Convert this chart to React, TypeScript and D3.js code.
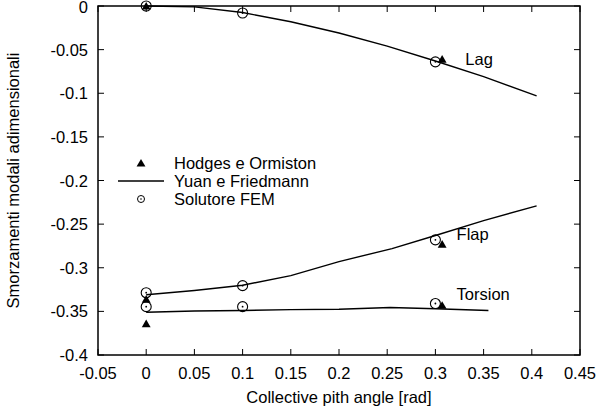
import React from "react";
import * as d3 from "d3";

// Tick values
const xTicks = [-0.05, 0, 0.05, 0.1, 0.15, 0.2, 0.25, 0.3, 0.35, 0.4, 0.45];
const yTicks = [0, -0.05, -0.1, -0.15, -0.2, -0.25, -0.3, -0.35, -0.4];

// Yuan e Friedmann (continuous curves)
const lagLineX = [0, 0.05, 0.1, 0.15, 0.2, 0.25, 0.3, 0.35, 0.405];
const lagLineY = [0, -0.001, -0.0075, -0.018, -0.031, -0.046, -0.063, -0.081, -0.103];
const flapLineX = [0, 0.05, 0.1, 0.15, 0.2, 0.255, 0.3, 0.35, 0.405];
const flapLineY = [-0.331, -0.326, -0.32, -0.309, -0.293, -0.278, -0.263, -0.246, -0.229];
const torsLineX = [0, 0.05, 0.1, 0.15, 0.2, 0.253, 0.3, 0.355];
const torsLineY = [-0.351, -0.3495, -0.349, -0.348, -0.3475, -0.3455, -0.347, -0.349];

// Solutore FEM
const femX = [0, 0.1, 0.3, 0, 0.1, 0.3, 0, 0.1, 0.3];
const femY = [0, -0.008, -0.064, -0.3286, -0.3205, -0.268, -0.3446, -0.3446, -0.341];

// Hodges e Ormiston
const hoX = [0, 0.307, 0, 0.307, 0, 0.307];
const hoY = [0, -0.061, -0.336, -0.273, -0.364, -0.343];

// Mode labels
const modeNames = ["Lag", "Flap", "Torsion"];
const modeLabelX = [0.331, 0.322, 0.322];
const modeLabelY = [-0.068, -0.268, -0.337];

const W = 599;
const H = 414;
const m = { left: 98, right: 19, top: 6, bottom: 59 };
const FONT = "'Liberation Sans', Arial, Helvetica, sans-serif";
const FS = 16.5;

export default function App() {
  const x = d3.scaleLinear().domain([-0.05, 0.45]).range([m.left, W - m.right]);
  const y = d3.scaleLinear().domain([-0.4, 0]).range([H - m.bottom, m.top]);
  const line = d3
    .line<[number, number]>()
    .x((d) => x(d[0]))
    .y((d) => y(d[1]));

  const curves = [
    d3.zip(lagLineX, lagLineY) as [number, number][],
    d3.zip(flapLineX, flapLineY) as [number, number][],
    d3.zip(torsLineX, torsLineY) as [number, number][],
  ];

  const tri = d3.symbol().type(d3.symbolTriangle).size(34)();
  const tickLen = 6;
  const x0 = m.left;
  const x1 = W - m.right;
  const y0 = m.top;
  const y1 = H - m.bottom;

  return (
    <svg
      width={W}
      height={H}
      style={{ position: "absolute", left: 0, top: 0, background: "#fff" }}
      fontFamily={FONT}
    >
      {/* ticks on all four sides */}
      {xTicks.map((t, i) => (
        <g key={"xt" + i} stroke="#000" strokeWidth={1}>
          <line x1={x(t)} x2={x(t)} y1={y1} y2={y1 - tickLen} />
          <line x1={x(t)} x2={x(t)} y1={y0} y2={y0 + tickLen} />
        </g>
      ))}
      {yTicks.map((t, i) => (
        <g key={"yt" + i} stroke="#000" strokeWidth={1}>
          <line x1={x0} x2={x0 + tickLen} y1={y(t)} y2={y(t)} />
          <line x1={x1} x2={x1 - tickLen} y1={y(t)} y2={y(t)} />
        </g>
      ))}
      {xTicks.map((t, i) => (
        <text key={"xl" + i} x={x(t)} y={y1 + 24} textAnchor="middle" fontSize={FS}>
          {t === 0 ? "0" : String(t)}
        </text>
      ))}
      {yTicks.map((t, i) => (
        <text key={"yl" + i} x={x0 - 10} y={Math.max(y(t) + 6, 13)} textAnchor="end" fontSize={FS}>
          {t === 0 ? "0" : String(t)}
        </text>
      ))}

      {/* curves */}
      {curves.map((c, i) => (
        <path key={"c" + i} d={line(c) || ""} fill="none" stroke="#000" strokeWidth={1.4} />
      ))}

      {/* FEM points */}
      {femX.map((v, i) => (
        <g key={"f" + i} transform={`translate(${x(v)},${y(femY[i])})`}>
          <circle r={5} fill="none" stroke="#000" strokeWidth={1.1} />
          <circle r={0.9} fill="#000" />
        </g>
      ))}

      {/* Hodges points */}
      {hoX.map((v, i) => (
        <path key={"h" + i} d={tri || ""} transform={`translate(${x(v)},${y(hoY[i]) + 1})`} fill="#000" />
      ))}

      {/* mode labels */}
      {modeNames.map((n, i) => (
        <text key={"m" + i} x={x(modeLabelX[i])} y={y(modeLabelY[i])} fontSize={FS}>
          {n}
        </text>
      ))}

      {/* legend */}
      <g fontSize={FS}>
        <path d={tri || ""} transform="translate(141,164)" fill="#000" />
        <text x={174} y={169}>Hodges e Ormiston</text>
        <line x1={118} x2={164} y1={181} y2={181} stroke="#000" strokeWidth={1.4} />
        <text x={174} y={187}>Yuan e Friedmann</text>
        <g transform="translate(141,199)">
          <circle r={3.5} fill="none" stroke="#000" strokeWidth={1} />
          <circle r={0.8} fill="#000" />
        </g>
        <text x={174} y={205}>Solutore FEM</text>
      </g>

      {/* frame */}
      <rect x={x0} y={y0} width={x1 - x0} height={y1 - y0} fill="none" stroke="#000" strokeWidth={1.5} />

      {/* axis titles */}
      <text x={(x0 + x1) / 2} y={y1 + 48} textAnchor="middle" fontSize={FS}>
        Collective pith angle [rad]
      </text>
      <text
        transform={`translate(19,${(y0 + y1) / 2}) rotate(-90)`}
        textAnchor="middle"
        fontSize={FS}
      >
        Smorzamenti modali adimensionali
      </text>
    </svg>
  );
}
